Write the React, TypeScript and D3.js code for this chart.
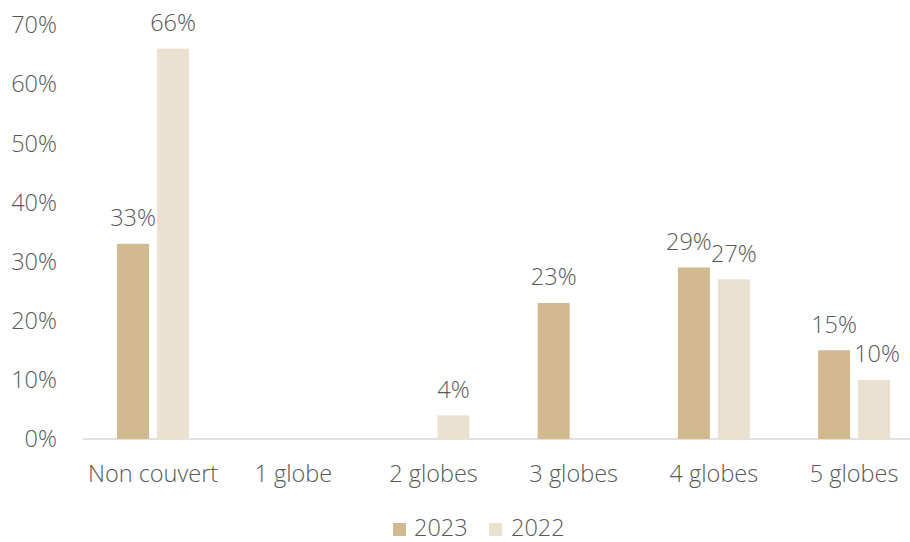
import React from "react";
import * as d3 from "d3";

const categories = ["Non couvert", "1 globe", "2 globes", "3 globes", "4 globes", "5 globes"];
const series2023 = [33, 0, 0, 23, 29, 15];
const series2022 = [66, 0, 4, 0, 27, 10];
const yTicks = [0, 10, 20, 30, 40, 50, 60, 70];
const seriesNames = ["2023", "2022"];
const colors = ["#D2B990", "#EBE1D1"];

export default function App() {
  const W = 910, H = 542;
  const x0 = 83, bandW = 140.2;
  const x = d3.scaleBand<string>().domain(categories).range([x0, x0 + bandW * categories.length]).paddingInner(0).paddingOuter(0);
  const y = d3.scaleLinear().domain([0, 70]).range([439, 25]);
  const barW = 32, gap = 8;
  const font = "'Open Sans', sans-serif";
  const txt = "#595959";
  const fs = 23.5;
  const series = [series2023, series2022];
  return (
    <svg width={W} height={H} style={{ position: "absolute", left: 0, top: 0 }} fontFamily={font} fontWeight={300}>
      <rect width={W} height={H} fill="#fff" />
      {yTicks.map((t) => (
        <text key={t} x={57} y={y(t)} dy="0.35em" textAnchor="end" fontSize={fs} fill={txt}>{t}%</text>
      ))}
      <line x1={x0} x2={W} y1={y(0)} y2={y(0)} stroke="#D9D9D9" strokeWidth={1.5} />
      {categories.map((c, i) => {
        const cx = (x(c) as number) + x.bandwidth() / 2;
        return (
          <g key={c}>
            {series.map((s, j) => {
              const v = s[i];
              const bx = cx - gap / 2 - barW + j * (barW + gap);
              if (v === 0) return null;
              return (
                <g key={j}>
                  <rect x={bx} y={y(v)} width={barW} height={y(0) - y(v)} fill={colors[j]} />
                  <text x={bx + barW / 2 - (j === 0 && i === 4 ? 5 : 0) + (j === 1 && i === 5 ? 3 : 0)} y={y(v) - 26} dy="0.35em" textAnchor="middle" fontSize={fs} fill={txt}>{v}%</text>
                </g>
              );
            })}
            <text x={cx} y={474} dy="0.35em" textAnchor="middle" fontSize={fs} fill={txt}>{c}</text>
          </g>
        );
      })}
      {seriesNames.map((n, j) => (
        <g key={n}>
          <rect x={393 + j * 96} y={523} width={13} height={13} fill={colors[j]} />
          <text x={414 + j * 97} y={528} dy="0.35em" fontSize={fs} fill={txt}>{n}</text>
        </g>
      ))}
    </svg>
  );
}
